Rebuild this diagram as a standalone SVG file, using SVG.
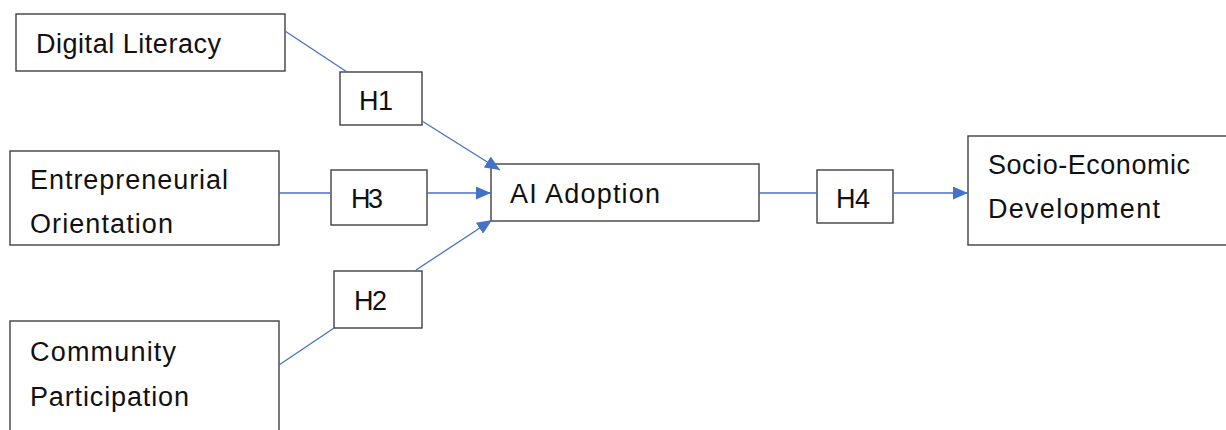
<svg xmlns="http://www.w3.org/2000/svg" width="1226" height="430" viewBox="0 0 1226 430">
<defs>
<style>
.box{fill:#fff;stroke:#404040;stroke-width:1.4}
.t{font-family:"Liberation Sans",Arial,sans-serif;font-size:27px;fill:#111}
.c{stroke:#4472C4;stroke-width:1.3;fill:none}
</style>
<marker id="ah" viewBox="0 0 15 13" refX="15" refY="6.5" markerWidth="15" markerHeight="13" markerUnits="userSpaceOnUse" orient="auto">
<path d="M0,0 L15,6.5 L0,13 Z" fill="#4472C4"/>
</marker>
</defs>
<rect width="1226" height="430" fill="#fff"/>
<g id="digital-literacy">
<rect class="box" x="16" y="14" width="269" height="57"/>
<text class="t" x="36" y="53" textLength="185">Digital Literacy</text>
</g>
<g id="h1">
<rect class="box" x="340" y="72" width="82" height="53"/>
<text class="t" x="359" y="110" textLength="34">H1</text>
</g>
<g id="entrepreneurial-orientation">
<rect class="box" x="10" y="151" width="269" height="94"/>
<text class="t" x="30" y="189" textLength="198">Entrepreneurial</text>
<text class="t" x="30" y="233" textLength="143">Orientation</text>
</g>
<g id="h3">
<rect class="box" x="331" y="170" width="96" height="55"/>
<text class="t" x="351" y="208" textLength="32">H3</text>
</g>
<g id="community-participation">
<rect class="box" x="10" y="321" width="269" height="120"/>
<text class="t" x="30" y="361" textLength="146">Community</text>
<text class="t" x="30" y="406" textLength="159">Participation</text>
</g>
<g id="h2">
<rect class="box" x="334" y="271" width="88" height="57"/>
<text class="t" x="354" y="310" textLength="33">H2</text>
</g>
<g id="ai-adoption">
<rect class="box" x="491" y="164" width="268" height="57"/>
<text class="t" x="510" y="203" textLength="150">AI Adoption</text>
</g>
<g id="h4">
<rect class="box" x="817" y="170" width="76" height="53"/>
<text class="t" x="836" y="208" textLength="34">H4</text>
</g>
<g id="socio-economic-development">
<rect class="box" x="968" y="136" width="270" height="109"/>
<text class="t" x="988" y="174" textLength="202">Socio-Economic</text>
<text class="t" x="988" y="218" textLength="172">Development</text>
</g>
<g id="connectors">
<line class="c" x1="285" y1="31" x2="347" y2="72"/>
<line class="c" x1="422" y1="121" x2="500" y2="170" marker-end="url(#ah)"/>
<line class="c" x1="279" y1="193" x2="331" y2="193"/>
<line class="c" x1="427" y1="193" x2="491" y2="193" marker-end="url(#ah)"/>
<line class="c" x1="279" y1="365" x2="334" y2="328"/>
<line class="c" x1="416" y1="270" x2="492" y2="220" marker-end="url(#ah)"/>
<line class="c" x1="759" y1="193" x2="817" y2="193"/>
<line class="c" x1="893" y1="193" x2="968" y2="193" marker-end="url(#ah)"/>
</g>
</svg>
